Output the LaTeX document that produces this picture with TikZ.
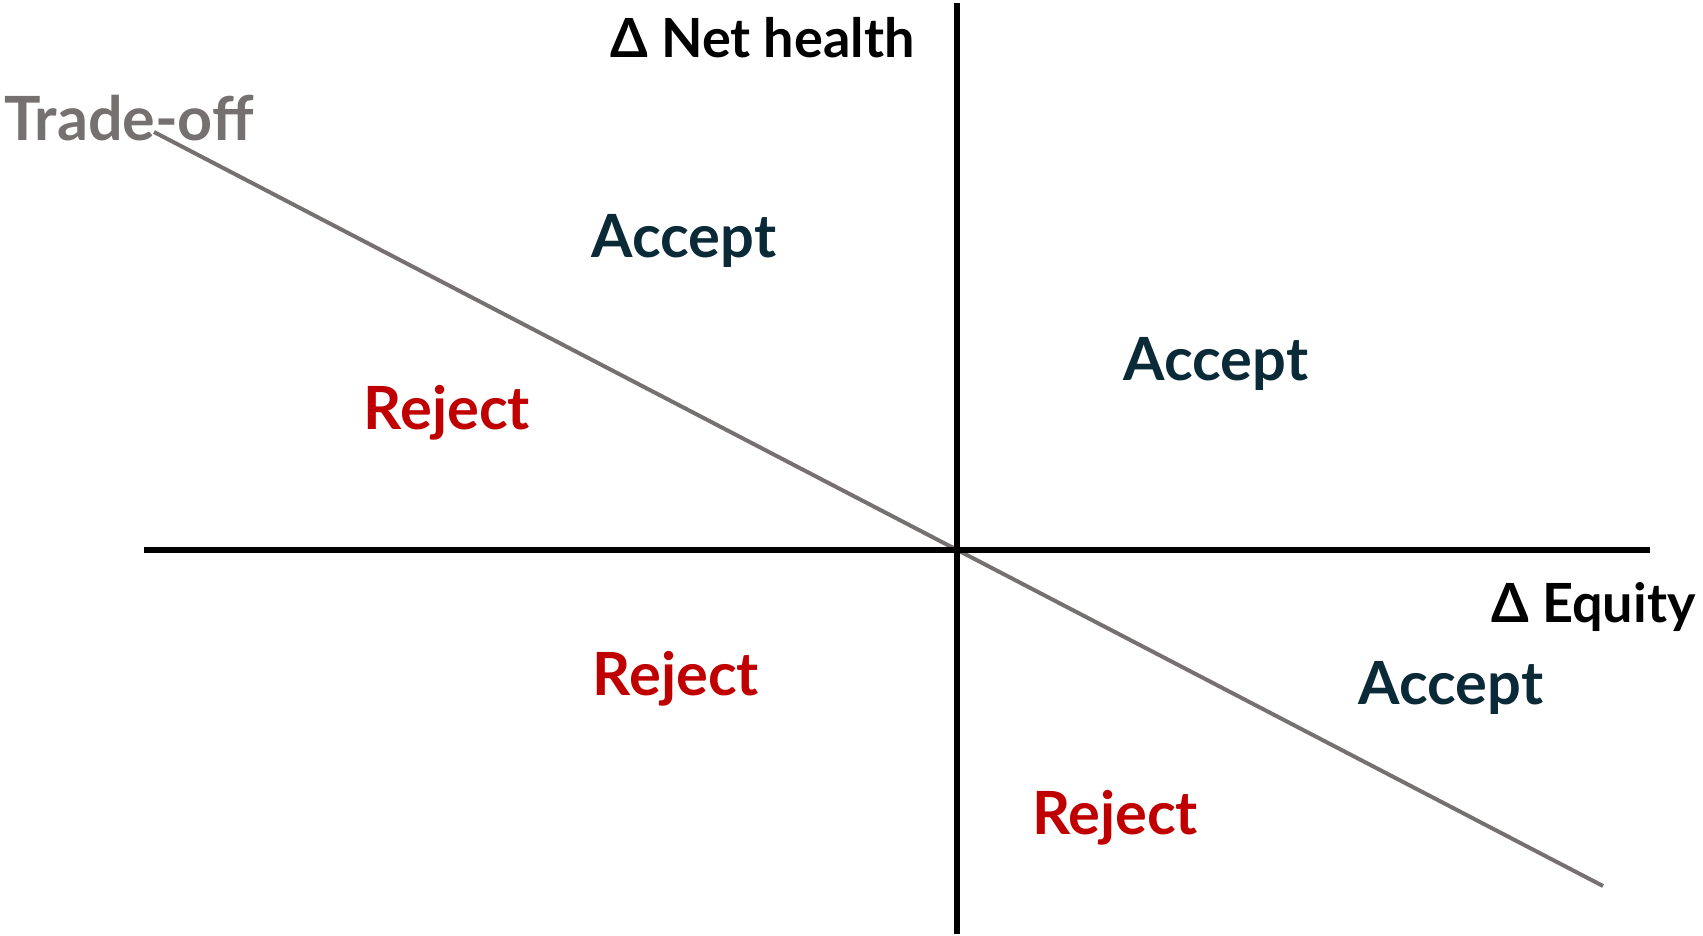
\documentclass[tikz,border=0pt]{standalone}
\usepackage{fontspec}
\setmainfont{Lato}[BoldFont={Lato Bold}]
\definecolor{acceptcol}{HTML}{0B2A38}
\definecolor{rejectcol}{HTML}{C00000}
\definecolor{tradecol}{HTML}{767171}
\begin{document}
\begin{tikzpicture}[x=0.5pt,y=-0.5pt]
        \useasboundingbox (0,0) rectangle (1703,936);

        % axes and trade-off line
        \coordinate (top)    at (957,3);
        \coordinate (bottom) at (957,934);
        \coordinate (left)   at (144,550);
        \coordinate (right)  at (1650,550);
        \coordinate (tstart) at (154,132);
        \coordinate (tend)   at (1603,886);

        \draw[tradecol,line width=2pt] (tstart) -- (tend);
        \draw[black,line width=2.6pt] (top) -- (bottom);
        \draw[black,line width=2.6pt] (left) -- (right);

        \begin{scope}[every node/.style={anchor=base,inner sep=0pt,font=\bfseries\fontsize{27}{32}\selectfont}]
          \node (yaxis) [anchor=base east] at (915,58) {Δ Net health};
          \node (xaxis) [anchor=base east] at (1696,622) {Δ Equity};
          \node[text=tradecol,font=\bfseries\fontsize{30.5}{36}\selectfont] (trade) at (129,141) {Trade-off};
        \end{scope}

        \begin{scope}[every node/.style={anchor=base,inner sep=0pt,font=\bfseries\fontsize{29.8}{36}\selectfont}]
          \node[text=acceptcol] (acc1) at (684,258) {Accept};
          \node[text=acceptcol] (acc2) at (1216,380) {Accept};
          \node[text=acceptcol] (acc3) at (1451,704) {Accept};
          \node[text=rejectcol] (rej1) at (447,429) {Reject};
          \node[text=rejectcol] (rej2) at (676,695) {Reject};
          \node[text=rejectcol] (rej3) at (1115,834) {Reject};
        \end{scope}

      \end{tikzpicture}
\end{document}
